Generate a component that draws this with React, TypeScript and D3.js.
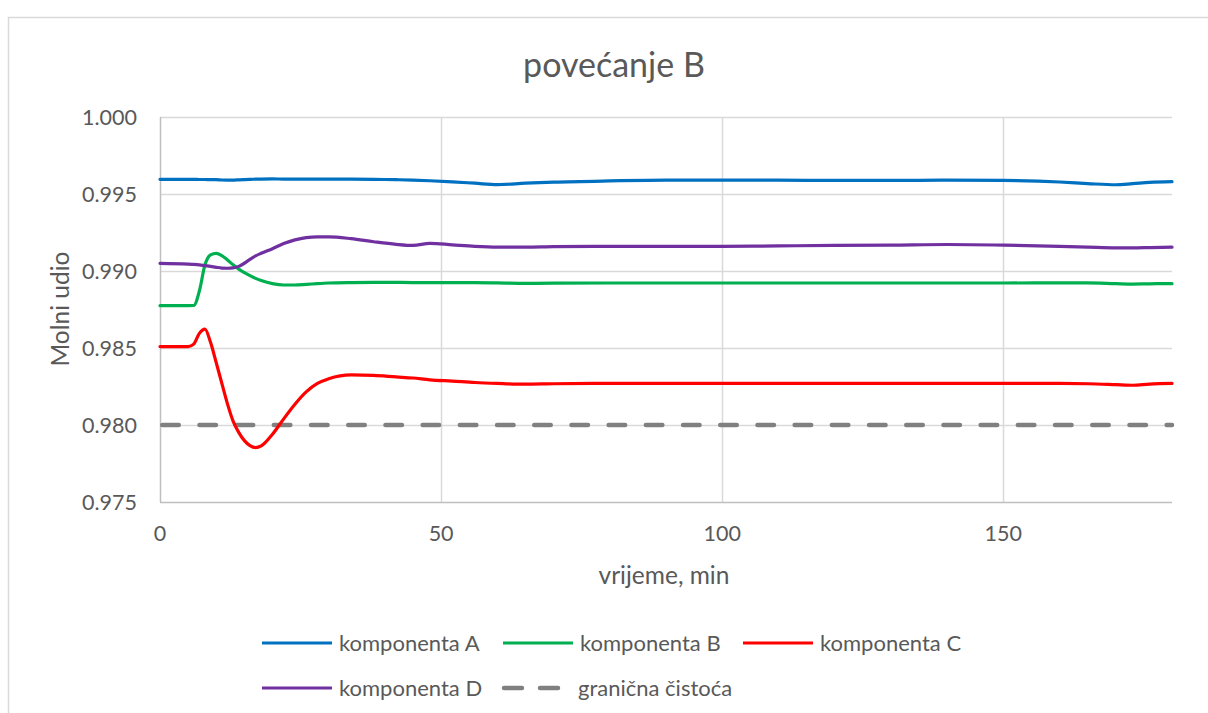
import React, { useEffect, useRef } from "react";
import * as d3 from "d3";

// time points (min)
const times = [
  0, 5, 6, 7, 8, 9, 10, 11, 12, 13, 14, 16, 17, 18, 20, 22, 24, 26, 28, 30, 34, 38, 42, 45, 48,
  52, 56, 60, 65, 70, 80, 90, 100, 110, 120, 130, 140, 150, 160, 165, 170, 173, 176, 180,
];

const komponentaA = [
  0.99595, 0.99595, 0.99595, 0.99594, 0.99594, 0.99593, 0.99593, 0.99591, 0.9959, 0.9959, 0.99592,
  0.99595, 0.99596, 0.99597, 0.99598, 0.99597, 0.99597, 0.99596, 0.99596, 0.99596, 0.99596, 0.99595,
  0.99593, 0.9959, 0.99586, 0.99579, 0.9957, 0.99561, 0.9957, 0.99577, 0.99585, 0.9959, 0.9959,
  0.9959, 0.99588, 0.99588, 0.9959, 0.99588, 0.99578, 0.99568, 0.9956, 0.99567, 0.99575, 0.9958,
];

const komponentaB = [
  0.98775, 0.98775, 0.98776, 0.9887, 0.9904, 0.99105, 0.99115, 0.991, 0.99072, 0.9904, 0.99012,
  0.9897, 0.98952, 0.98938, 0.98918, 0.98909, 0.98909, 0.98913, 0.98918, 0.98922, 0.98925, 0.98926,
  0.98926, 0.98925, 0.98925, 0.98925, 0.98924, 0.98923, 0.9892, 0.98921, 0.98922, 0.98922, 0.98922,
  0.98922, 0.98922, 0.98922, 0.98922, 0.98922, 0.98923, 0.98923, 0.98918, 0.98915, 0.98917, 0.98918,
];

const komponentaC = [
  0.98509, 0.98509, 0.98525, 0.98595, 0.98622, 0.98535, 0.98405, 0.9827, 0.98137, 0.98025, 0.97952,
  0.97866, 0.97853, 0.97864, 0.9794, 0.9804, 0.98135, 0.98215, 0.9827, 0.983, 0.98325, 0.98322,
  0.98312, 0.98305, 0.98293, 0.98285, 0.98276, 0.9827, 0.98265, 0.98268, 0.9827, 0.9827, 0.9827,
  0.9827, 0.9827, 0.9827, 0.9827, 0.9827, 0.9827, 0.98268, 0.98262, 0.98258, 0.98266, 0.9827,
];

const komponentaD = [
  0.9905, 0.99045, 0.99043, 0.9904, 0.99035, 0.9903, 0.99024, 0.99019, 0.99018, 0.9902, 0.9903,
  0.99075, 0.99098, 0.99115, 0.99145, 0.99178, 0.99202, 0.99217, 0.99222, 0.99222, 0.9921, 0.9919,
  0.99173, 0.99166, 0.9918, 0.9917, 0.9916, 0.99155, 0.99155, 0.99158, 0.9916, 0.9916, 0.9916,
  0.99163, 0.99166, 0.99168, 0.99172, 0.99168, 0.9916, 0.99155, 0.9915, 0.9915, 0.99152, 0.99155,
];

const limitValue = 0.98;
const seriesNames = ["komponenta A", "komponenta B", "komponenta C", "komponenta D"];
const limitName = "granična čistoća";
const xTicks = [0, 50, 100, 150];
const yTicks = [0.975, 0.98, 0.985, 0.99, 0.995, 1.0];
const colors = ["#0070C0", "#00B050", "#FF0000", "#7030A0"];

const App = () => {
  const ref = useRef<SVGSVGElement>(null);

  useEffect(() => {
    const svg = d3.select(ref.current);
    svg.selectAll("*").remove();
    const font = "Lato, 'Open Sans', sans-serif";
    const textColor = "#595959";

    const left = 160;
    const right = 1172;
    const top = 117;
    const bottom = 502;

    const x = d3.scaleLinear().domain([0, 180]).range([left, right]);
    const y = d3.scaleLinear().domain([0.975, 1.0]).range([bottom, top]);

    // chart area border
    svg
      .append("rect")
      .attr("x", 8.5)
      .attr("y", 17.5)
      .attr("width", 1240)
      .attr("height", 740)
      .attr("fill", "#fff")
      .attr("stroke", "#d9d9d9")
      .attr("stroke-width", 1.5);

    svg
      .append("text")
      .attr("x", 614)
      .attr("y", 77)
      .attr("text-anchor", "middle")
      .attr("font-family", font)
      .attr("font-size", 34)
      .attr("fill", textColor)
      .text("povećanje B");

    // gridlines
    svg
      .selectAll(".hgrid")
      .data(yTicks.slice(1))
      .enter()
      .append("line")
      .attr("x1", left)
      .attr("x2", right)
      .attr("y1", (d) => Math.round(y(d)) + 0.5)
      .attr("y2", (d) => Math.round(y(d)) + 0.5)
      .attr("stroke", "#d9d9d9")
      .attr("stroke-width", 1.5);

    svg
      .selectAll(".vgrid")
      .data(xTicks.slice(1))
      .enter()
      .append("line")
      .attr("x1", (d) => Math.round(x(d)) + 0.5)
      .attr("x2", (d) => Math.round(x(d)) + 0.5)
      .attr("y1", top)
      .attr("y2", bottom)
      .attr("stroke", "#d9d9d9")
      .attr("stroke-width", 1.5);

    // axis lines
    svg
      .append("line")
      .attr("x1", left + 0.5)
      .attr("x2", left + 0.5)
      .attr("y1", top)
      .attr("y2", bottom)
      .attr("stroke", "#bfbfbf")
      .attr("stroke-width", 1.5);
    svg
      .append("line")
      .attr("x1", left)
      .attr("x2", right)
      .attr("y1", bottom + 0.5)
      .attr("y2", bottom + 0.5)
      .attr("stroke", "#bfbfbf")
      .attr("stroke-width", 1.5);

    // tick labels
    svg
      .selectAll(".ylab")
      .data(yTicks)
      .enter()
      .append("text")
      .attr("x", 137)
      .attr("y", (d) => y(d))
      .attr("dy", "0.36em")
      .attr("text-anchor", "end")
      .attr("font-family", font)
      .attr("font-size", 21.5)
      .attr("fill", textColor)
      .text((d) => d3.format(".3f")(d));

    svg
      .selectAll(".xlab")
      .data(xTicks)
      .enter()
      .append("text")
      .attr("x", (d) => x(d))
      .attr("y", 533)
      .attr("dy", "0.36em")
      .attr("text-anchor", "middle")
      .attr("font-family", font)
      .attr("font-size", 21.5)
      .attr("fill", textColor)
      .text((d) => String(d));

    // axis titles
    svg
      .append("text")
      .attr("x", 664)
      .attr("y", 575)
      .attr("dy", "0.36em")
      .attr("text-anchor", "middle")
      .attr("font-family", font)
      .attr("font-size", 24.5)
      .attr("fill", textColor)
      .text("vrijeme, min");
    svg
      .append("text")
      .attr("transform", "translate(60,309) rotate(-90)")
      .attr("dy", "0.36em")
      .attr("text-anchor", "middle")
      .attr("font-family", font)
      .attr("font-size", 24.5)
      .attr("fill", textColor)
      .text("Molni udio");

    // limit line
    svg
      .append("line")
      .attr("x1", x(0) + 2.25)
      .attr("x2", x(180))
      .attr("y1", y(limitValue))
      .attr("y2", y(limitValue))
      .attr("stroke", "#808080")
      .attr("stroke-width", 4.5)
      .attr("stroke-linecap", "round")
      .attr("stroke-dasharray", "16.5 20.7");

    // series
    const allSeries = [komponentaA, komponentaB, komponentaC, komponentaD];
    const line = d3
      .line<number>()
      .x((_, i) => x(times[i]))
      .y((d) => y(d))
      .curve(d3.curveMonotoneX);

    allSeries.forEach((vals, i) => {
      svg
        .append("path")
        .attr("d", line(vals))
        .attr("fill", "none")
        .attr("stroke", colors[i])
        .attr("stroke-width", 3.2)
        .attr("stroke-linejoin", "round")
        .attr("stroke-linecap", "round");
    });

    // legend
    const legendItems = [
      { name: seriesNames[0], color: colors[0], x: 262, y: 643, dashed: false },
      { name: seriesNames[1], color: colors[1], x: 503, y: 643, dashed: false },
      { name: seriesNames[2], color: colors[2], x: 743, y: 643, dashed: false },
      { name: seriesNames[3], color: colors[3], x: 262, y: 688, dashed: false },
      { name: limitName, color: "#808080", x: 502, y: 688, dashed: true },
    ];
    const lg = svg
      .selectAll(".legend")
      .data(legendItems)
      .enter()
      .append("g")
      .attr("transform", (d) => `translate(${d.x},${d.y})`);
    lg.append("line")
      .attr("x1", (d) => (d.dashed ? 2 : 0))
      .attr("x2", (d) => (d.dashed ? 56 : 70))
      .attr("stroke", (d) => d.color)
      .attr("stroke-width", (d) => (d.dashed ? 4.5 : 3.2))
      .attr("stroke-linecap", (d) => (d.dashed ? "round" : "butt"))
      .attr("stroke-dasharray", (d) => (d.dashed ? "18 18" : null));
    lg.append("text")
      .attr("x", (d) => (d.dashed ? 76 : 77))
      .attr("dy", "0.36em")
      .attr("font-family", font)
      .attr("font-size", 22)
      .attr("fill", textColor)
      .text((d) => d.name);
  }, []);

  return (
    <svg
      ref={ref}
      width={1208}
      height={713}
      style={{ position: "absolute", left: 0, top: 0, background: "#fff" }}
    />
  );
};

export default App;
